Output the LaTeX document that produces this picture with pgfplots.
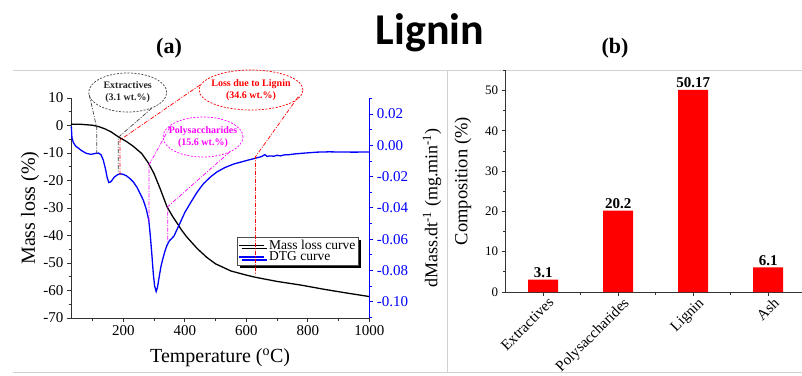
\documentclass[border=0pt]{standalone}
\usepackage{pgfplots}
\pgfplotsset{compat=1.18}
\usepackage{fontspec}
\setmainfont{Liberation Serif}
\newfontfamily\titlefont{Carlito}
\usetikzlibrary{shadows}
\definecolor{magentaA}{RGB}{255,0,255}

\pgfplotstableread{
T m
30 0.5
60 0.45
100 0.1
120 -0.4
140 -1.2
160 -2.3
185 -4.2
210 -5.8
233 -7.6
260 -10.2
282 -13.7
300 -17.5
320 -23
342 -29.5
360 -33
375 -35.5
390 -38.1
407 -40.6
440 -44.7
472 -48.0
500 -50.3
550 -52.9
600 -54.4
630 -55.2
700 -56.7
776 -58.0
850 -59.5
920 -60.8
1000 -62.2
}\massloss

\pgfplotstableread{
T d
31 0.012
33 0.005
37 0.002
45 -0.0005
55 -0.002
65 -0.0035
80 -0.0052
95 -0.0058
110 -0.0052
120 -0.0050
128 -0.0062
135 -0.0095
142 -0.015
148 -0.021
153 -0.0238
158 -0.0235
163 -0.0225
170 -0.0205
180 -0.019
190 -0.0182
200 -0.0186
210 -0.0195
220 -0.021
233 -0.0235
245 -0.027
255 -0.031
265 -0.035
275 -0.041
283 -0.048
288 -0.058
293 -0.070
298 -0.083
302 -0.090
307 -0.0935
311 -0.091
316 -0.085
322 -0.078
328 -0.073
335 -0.068
342 -0.064
350 -0.061
358 -0.0595
365 -0.058
372 -0.055
385 -0.0495
400 -0.043
418 -0.037
440 -0.030
461 -0.0245
485 -0.020
505 -0.0170
530 -0.0143
559 -0.0120
600 -0.0098
635 -0.0080
650 -0.0072
660 -0.0060
668 -0.0072
675 -0.0068
690 -0.0070
700 -0.0064
712 -0.0068
721 -0.0062
740 -0.0060
760 -0.0055
790 -0.0050
830 -0.0044
870 -0.0042
900 -0.0043
950 -0.0044
1000 -0.0043
}\dtg

\pgfplotstableread{
x y label
0 3.1 3.1
1 20.2 20.2
2 50.17 50.17
3 6.1 6.1
}\comp

\begin{document}
\begin{tikzpicture}[x=1pt,y=1pt]
\path[use as bounding box] (0,0) rectangle (802,375);
% panel borders
\draw[black!18, line width=0.8pt] (13,305) -- (802,305);
\draw[black!18, line width=0.8pt] (13,3) -- (802,3);
\draw[black!18, line width=0.8pt] (447,3) -- (447,305);
% titles
\node[font=\titlefont\bfseries\fontsize{44}{44}\selectfont, anchor=base] at (430,330) {Lignin};
\node[font=\bfseries\fontsize{22}{22}\selectfont] at (169,327) {(a)};
\node[font=\bfseries\fontsize{22}{22}\selectfont] at (615,327) {(b)};

\pgfplotsset{
  /pgf/number format/assume math mode=true,
  /pgf/number format/1000 sep={},
}

% ---- left: mass loss ----
\begin{axis}[
  at={(71pt,57pt)}, anchor=south west,
  scale only axis, width=298.3pt, height=220pt,
  xmin=30, xmax=1000, ymin=-70, ymax=10,
  axis x line*=bottom, axis y line*=left,
  axis line style={-, black!80, line width=0.8pt},
  tick align=outside, major tick length=4pt, minor tick length=2.5pt,
  tick style={black!80, line width=0.8pt},
  tick label style={font=\fontsize{15}{15}\selectfont},
  xtick={200,400,600,800,1000}, minor xtick={100,300,500,700,900},
  ytick={-70,-60,-50,-40,-30,-20,-10,0,10},
  minor ytick={-65,-55,-45,-35,-25,-15,-5,5},
  xlabel={Temperature (\textsuperscript{o}C)},
  ylabel={Mass loss (\%)},
  label style={font=\fontsize{20}{20}\selectfont},
  xlabel style={at={(axis description cs:0.5,-0.18)}, anchor=center},
  ylabel style={at={(axis description cs:-0.137,0.5)}, anchor=center},
  clip=false,
]
\addplot[black, line width=1.3pt] table[x=T, y=m] {\massloss};
\end{axis}

% ---- left: DTG ----
\begin{axis}[
  at={(71pt,57pt)}, anchor=south west,
  scale only axis, width=298.3pt, height=220pt,
  xmin=30, xmax=1000, ymin=-0.1104, ymax=0.0302,
  axis x line=none, axis y line*=right,
  axis line style={-, blue, line width=0.8pt},
  tick align=outside, major tick length=4pt, minor tick length=2.5pt,
  tick style={blue, line width=0.8pt},
  yticklabel style={blue, font=\fontsize{15}{15}\selectfont},
  scaled y ticks=false,
  ytick={-0.10,-0.08,-0.06,-0.04,-0.02,0,0.02},
  minor ytick={-0.11,-0.09,-0.07,-0.05,-0.03,-0.01,0.01,0.03},
  yticklabel style={/pgf/number format/.cd, fixed, fixed zerofill, precision=2},
  ylabel={dMass.dt\textsuperscript{-1} (mg.min\textsuperscript{-1})},
  ylabel style={font=\fontsize{18}{18}\selectfont, at={(axis description cs:1.21,0.5)}, anchor=center},
  legend style={at={(rel axis cs:0.5555,0.3695)}, anchor=north west,
    draw=black!70, fill=white, inner sep=1pt, row sep=-3pt,
    font=\fontsize{13.5}{14}\selectfont,
    drop shadow={shadow xshift=3pt, shadow yshift=-3pt, fill=black, opacity=1},
    /tikz/every odd column/.append style={column sep=3pt}},
  legend cell align=left,
  legend image code/.code={\draw[#1] (0pt,0pt) -- (25pt,0pt);},
  clip=false,
]
\addlegendimage{black, line width=1.3pt}
\addlegendentry{Mass loss curve}
\addplot[blue, line width=1.3pt] table[x=T, y=d] {\dtg};
\addlegendentry{DTG curve}
\end{axis}

% ---- annotations ----
\tikzset{dd/.style={line width=0.7pt, dash pattern=on 4pt off 1.5pt on 1pt off 1.5pt},
         el/.style={line width=0.7pt, dash pattern=on 2pt off 1.5pt}}
\draw[el, black!75] (127.7,282.5) ellipse [x radius=39, y radius=19.5];
\node[font=\bfseries\fontsize{10}{12}\selectfont, align=center, black!85] at (127.7,282.5) {Extractives\\(3.1 wt.\%)};
\draw[el, red] (251,285) ellipse [x radius=52, y radius=20];
\node[font=\bfseries\fontsize{10}{12}\selectfont, align=center, red] at (251,285) {Loss due to Lignin\\(34.6 wt.\%)};
\draw[el, magentaA] (203,238) ellipse [x radius=40, y radius=20];
\node[font=\bfseries\fontsize{10}{12}\selectfont, align=center, magentaA] at (203,238) {Polysaccharides\\(15.6 wt.\%)};

\draw[dd, black!75] (89.3,280) -- (96.7,247.3) -- (96.7,221.7);
\draw[dd, black!75] (151.7,266.7) -- (118.3,237.7) -- (118.3,201.7);
\draw[dd, red] (200,290) -- (120,235) -- (120,200);
\draw[dd, red] (298.3,278.3) -- (255.5,218.3) -- (255.5,100);
\draw[dd, magentaA] (170,248.3) -- (149,210) -- (149,151.7);
\draw[dd, magentaA] (230,223.3) -- (167.7,168.3) -- (167.7,133.3);

% ---- right: composition ----
\begin{axis}[
  at={(505.7pt,83pt)}, anchor=south west,
  scale only axis, width=296.25pt, height=221.6pt,
  xmin=-0.5, xmax=3.45, ymin=0, ymax=55,
  axis x line*=bottom, axis y line*=left,
  axis line style={-, black!80, line width=0.8pt},
  tick align=outside, major tick length=4pt, minor tick length=2.5pt,
  tick style={black!80, line width=0.8pt},
  yticklabel style={font=\fontsize{13}{13}\selectfont},
  ybar, bar width=30pt,
  xtick={0,1,2,3},
  xticklabels={Extractives,Polysaccharides,Lignin,Ash},
  minor xtick={0.5,1.5,2.5},
  ytick={0,10,20,30,40,50}, minor ytick={5,15,25,35,45,55},
  x tick label style={rotate=45, anchor=north east, font=\fontsize{15}{15}\selectfont, xshift=6pt},
  ylabel={Composition (\%)},
  ylabel style={font=\fontsize{18.5}{18.5}\selectfont, at={(axis description cs:-0.144,0.5)}, anchor=center},
  nodes near coords, point meta=explicit symbolic,
  nodes near coords style={font=\bfseries\fontsize{15}{15}\selectfont, inner sep=1.5pt},
  clip=false,
]
\addplot[fill=red, draw=none] table[x=x, y=y, meta=label] {\comp};
\end{axis}
\end{tikzpicture}
\end{document}
